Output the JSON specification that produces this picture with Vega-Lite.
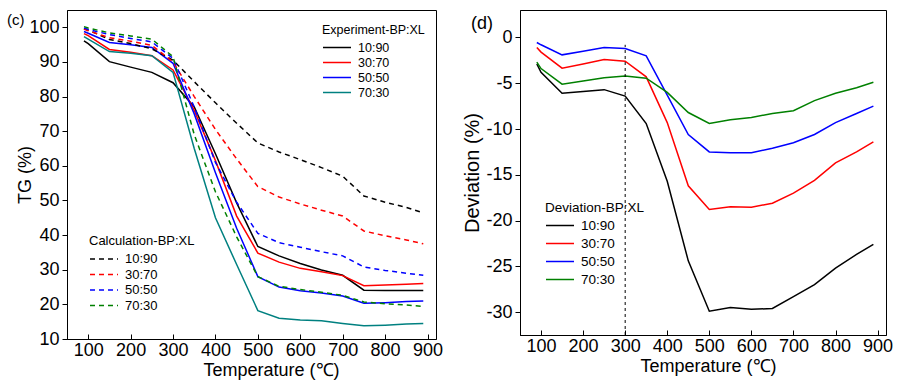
{
  "$schema": "https://vega.github.io/schema/vega-lite/v6.json",
  "background": "white",
  "padding": {"left": 6, "top": 9, "right": 0, "bottom": 0},
  "spacing": 18,
  "resolve": {"scale": {"color": "independent"}, "legend": {"color": "independent"}},
  "config": {
    "font": "Liberation Sans",
    "view": {"stroke": "black", "strokeWidth": 1},
    "axis": {
      "grid": false, "domainColor": "black", "tickColor": "black", "labelColor": "black", "titleColor": "black",
      "tickSize": 5, "labelFontSize": 18, "titleFontSize": 18, "titleFontWeight": "normal", "labelPadding": 2, "labelOverlap": false
    },
    "legend": {
      "titleFontWeight": "normal", "titleColor": "black", "labelColor": "black",
      "symbolType": "M-2,0H2", "symbolSize": 196, "symbolOffset": 7, "symbolStrokeWidth": 1.5,
      "labelOffset": 13, "rowPadding": 0, "titlePadding": 3
    },
    "title": {"fontWeight": "normal", "color": "black"}
  },
  "datasets": {
    "tg": [
      {"T":90,"v":96.1,"s":"10:90","k":"E"},{"T":100,"v":95.3,"s":"10:90","k":"E"},{"T":150,"v":90.1,"s":"10:90","k":"E"},{"T":200,"v":88.5,"s":"10:90","k":"E"},{"T":250,"v":87.0,"s":"10:90","k":"E"},{"T":300,"v":84.0,"s":"10:90","k":"E"},{"T":350,"v":77.0,"s":"10:90","k":"E"},{"T":400,"v":63.5,"s":"10:90","k":"E"},{"T":450,"v":49.3,"s":"10:90","k":"E"},{"T":500,"v":36.7,"s":"10:90","k":"E"},{"T":550,"v":34.0,"s":"10:90","k":"E"},{"T":600,"v":31.8,"s":"10:90","k":"E"},{"T":650,"v":29.9,"s":"10:90","k":"E"},{"T":700,"v":28.4,"s":"10:90","k":"E"},{"T":750,"v":24.1,"s":"10:90","k":"E"},{"T":800,"v":24.0,"s":"10:90","k":"E"},{"T":850,"v":24.0,"s":"10:90","k":"E"},{"T":890,"v":24.0,"s":"10:90","k":"E"},
      {"T":90,"v":98.2,"s":"30:70","k":"E"},{"T":100,"v":97.6,"s":"30:70","k":"E"},{"T":150,"v":93.6,"s":"30:70","k":"E"},{"T":200,"v":92.8,"s":"30:70","k":"E"},{"T":250,"v":91.8,"s":"30:70","k":"E"},{"T":300,"v":87.7,"s":"30:70","k":"E"},{"T":350,"v":76.0,"s":"30:70","k":"E"},{"T":400,"v":61.5,"s":"30:70","k":"E"},{"T":450,"v":45.5,"s":"30:70","k":"E"},{"T":500,"v":34.8,"s":"30:70","k":"E"},{"T":550,"v":32.2,"s":"30:70","k":"E"},{"T":600,"v":30.4,"s":"30:70","k":"E"},{"T":650,"v":29.4,"s":"30:70","k":"E"},{"T":700,"v":28.3,"s":"30:70","k":"E"},{"T":750,"v":25.4,"s":"30:70","k":"E"},{"T":800,"v":25.6,"s":"30:70","k":"E"},{"T":850,"v":25.8,"s":"30:70","k":"E"},{"T":890,"v":26.0,"s":"30:70","k":"E"},
      {"T":90,"v":98.8,"s":"50:50","k":"E"},{"T":100,"v":98.3,"s":"50:50","k":"E"},{"T":150,"v":95.6,"s":"50:50","k":"E"},{"T":200,"v":95.0,"s":"50:50","k":"E"},{"T":250,"v":94.2,"s":"50:50","k":"E"},{"T":300,"v":89.6,"s":"50:50","k":"E"},{"T":350,"v":75.0,"s":"50:50","k":"E"},{"T":400,"v":58.0,"s":"50:50","k":"E"},{"T":450,"v":42.0,"s":"50:50","k":"E"},{"T":500,"v":28.0,"s":"50:50","k":"E"},{"T":550,"v":25.0,"s":"50:50","k":"E"},{"T":600,"v":23.9,"s":"50:50","k":"E"},{"T":650,"v":23.3,"s":"50:50","k":"E"},{"T":700,"v":22.4,"s":"50:50","k":"E"},{"T":750,"v":20.3,"s":"50:50","k":"E"},{"T":800,"v":20.5,"s":"50:50","k":"E"},{"T":850,"v":20.8,"s":"50:50","k":"E"},{"T":890,"v":21.0,"s":"50:50","k":"E"},
      {"T":90,"v":97.3,"s":"70:30","k":"E"},{"T":100,"v":96.6,"s":"70:30","k":"E"},{"T":150,"v":93.0,"s":"70:30","k":"E"},{"T":200,"v":92.5,"s":"70:30","k":"E"},{"T":250,"v":91.8,"s":"70:30","k":"E"},{"T":300,"v":87.0,"s":"70:30","k":"E"},{"T":350,"v":65.0,"s":"70:30","k":"E"},{"T":400,"v":45.0,"s":"70:30","k":"E"},{"T":450,"v":31.5,"s":"70:30","k":"E"},{"T":500,"v":18.2,"s":"70:30","k":"E"},{"T":550,"v":16.0,"s":"70:30","k":"E"},{"T":600,"v":15.5,"s":"70:30","k":"E"},{"T":650,"v":15.3,"s":"70:30","k":"E"},{"T":700,"v":14.5,"s":"70:30","k":"E"},{"T":750,"v":13.8,"s":"70:30","k":"E"},{"T":800,"v":14.0,"s":"70:30","k":"E"},{"T":850,"v":14.3,"s":"70:30","k":"E"},{"T":890,"v":14.5,"s":"70:30","k":"E"},
      {"T":90,"v":99.6,"s":"10:90","k":"C"},{"T":100,"v":99.2,"s":"10:90","k":"C"},{"T":150,"v":96.5,"s":"10:90","k":"C"},{"T":200,"v":95.3,"s":"10:90","k":"C"},{"T":250,"v":93.8,"s":"10:90","k":"C"},{"T":300,"v":90.5,"s":"10:90","k":"C"},{"T":350,"v":84.3,"s":"10:90","k":"C"},{"T":400,"v":78.2,"s":"10:90","k":"C"},{"T":450,"v":72.3,"s":"10:90","k":"C"},{"T":500,"v":66.6,"s":"10:90","k":"C"},{"T":550,"v":64.0,"s":"10:90","k":"C"},{"T":600,"v":61.8,"s":"10:90","k":"C"},{"T":650,"v":59.5,"s":"10:90","k":"C"},{"T":700,"v":57.0,"s":"10:90","k":"C"},{"T":750,"v":51.3,"s":"10:90","k":"C"},{"T":800,"v":49.5,"s":"10:90","k":"C"},{"T":850,"v":48.0,"s":"10:90","k":"C"},{"T":890,"v":46.4,"s":"10:90","k":"C"},
      {"T":90,"v":99.5,"s":"30:70","k":"C"},{"T":100,"v":99.0,"s":"30:70","k":"C"},{"T":150,"v":97.0,"s":"30:70","k":"C"},{"T":200,"v":96.0,"s":"30:70","k":"C"},{"T":250,"v":94.8,"s":"30:70","k":"C"},{"T":300,"v":90.0,"s":"30:70","k":"C"},{"T":350,"v":80.0,"s":"30:70","k":"C"},{"T":400,"v":70.5,"s":"30:70","k":"C"},{"T":450,"v":62.0,"s":"30:70","k":"C"},{"T":500,"v":54.0,"s":"30:70","k":"C"},{"T":550,"v":51.0,"s":"30:70","k":"C"},{"T":600,"v":49.0,"s":"30:70","k":"C"},{"T":650,"v":47.2,"s":"30:70","k":"C"},{"T":700,"v":45.5,"s":"30:70","k":"C"},{"T":750,"v":41.2,"s":"30:70","k":"C"},{"T":800,"v":39.8,"s":"30:70","k":"C"},{"T":850,"v":38.6,"s":"30:70","k":"C"},{"T":890,"v":37.5,"s":"30:70","k":"C"},
      {"T":90,"v":99.8,"s":"50:50","k":"C"},{"T":100,"v":99.4,"s":"50:50","k":"C"},{"T":150,"v":97.9,"s":"50:50","k":"C"},{"T":200,"v":96.8,"s":"50:50","k":"C"},{"T":250,"v":95.8,"s":"50:50","k":"C"},{"T":300,"v":91.0,"s":"50:50","k":"C"},{"T":350,"v":77.0,"s":"50:50","k":"C"},{"T":400,"v":61.0,"s":"50:50","k":"C"},{"T":450,"v":49.5,"s":"50:50","k":"C"},{"T":500,"v":40.5,"s":"50:50","k":"C"},{"T":550,"v":37.8,"s":"50:50","k":"C"},{"T":600,"v":36.5,"s":"50:50","k":"C"},{"T":650,"v":35.2,"s":"50:50","k":"C"},{"T":700,"v":34.0,"s":"50:50","k":"C"},{"T":750,"v":30.8,"s":"50:50","k":"C"},{"T":800,"v":29.8,"s":"50:50","k":"C"},{"T":850,"v":29.0,"s":"50:50","k":"C"},{"T":890,"v":28.4,"s":"50:50","k":"C"},
      {"T":90,"v":100.2,"s":"70:30","k":"C"},{"T":100,"v":99.8,"s":"70:30","k":"C"},{"T":150,"v":98.4,"s":"70:30","k":"C"},{"T":200,"v":97.5,"s":"70:30","k":"C"},{"T":250,"v":96.6,"s":"70:30","k":"C"},{"T":300,"v":91.5,"s":"70:30","k":"C"},{"T":350,"v":69.0,"s":"70:30","k":"C"},{"T":400,"v":52.5,"s":"70:30","k":"C"},{"T":450,"v":39.5,"s":"70:30","k":"C"},{"T":500,"v":28.0,"s":"70:30","k":"C"},{"T":550,"v":25.2,"s":"70:30","k":"C"},{"T":600,"v":24.3,"s":"70:30","k":"C"},{"T":650,"v":23.5,"s":"70:30","k":"C"},{"T":700,"v":22.6,"s":"70:30","k":"C"},{"T":750,"v":20.7,"s":"70:30","k":"C"},{"T":800,"v":20.2,"s":"70:30","k":"C"},{"T":850,"v":19.8,"s":"70:30","k":"C"},{"T":890,"v":19.4,"s":"70:30","k":"C"}
    ],
    "dev": [
      {"T":90,"d":-2.9,"s":"10:90"},{"T":100,"d":-3.8,"s":"10:90"},{"T":150,"d":-6.1,"s":"10:90"},{"T":200,"d":-5.9,"s":"10:90"},{"T":250,"d":-5.7,"s":"10:90"},{"T":300,"d":-6.4,"s":"10:90"},{"T":350,"d":-9.4,"s":"10:90"},{"T":400,"d":-15.7,"s":"10:90"},{"T":450,"d":-24.4,"s":"10:90"},{"T":500,"d":-29.9,"s":"10:90"},{"T":550,"d":-29.5,"s":"10:90"},{"T":600,"d":-29.7,"s":"10:90"},{"T":650,"d":-29.6,"s":"10:90"},{"T":700,"d":-28.3,"s":"10:90"},{"T":750,"d":-27.0,"s":"10:90"},{"T":800,"d":-25.2,"s":"10:90"},{"T":850,"d":-23.7,"s":"10:90"},{"T":890,"d":-22.6,"s":"10:90"},
      {"T":90,"d":-1.1,"s":"30:70"},{"T":100,"d":-1.6,"s":"30:70"},{"T":150,"d":-3.35,"s":"30:70"},{"T":200,"d":-2.9,"s":"30:70"},{"T":250,"d":-2.4,"s":"30:70"},{"T":300,"d":-2.6,"s":"30:70"},{"T":350,"d":-4.3,"s":"30:70"},{"T":400,"d":-9.3,"s":"30:70"},{"T":450,"d":-16.2,"s":"30:70"},{"T":500,"d":-18.8,"s":"30:70"},{"T":550,"d":-18.5,"s":"30:70"},{"T":600,"d":-18.55,"s":"30:70"},{"T":650,"d":-18.1,"s":"30:70"},{"T":700,"d":-17.0,"s":"30:70"},{"T":750,"d":-15.6,"s":"30:70"},{"T":800,"d":-13.7,"s":"30:70"},{"T":850,"d":-12.5,"s":"30:70"},{"T":890,"d":-11.4,"s":"30:70"},
      {"T":90,"d":-0.55,"s":"50:50"},{"T":100,"d":-0.8,"s":"50:50"},{"T":150,"d":-1.9,"s":"50:50"},{"T":200,"d":-1.5,"s":"50:50"},{"T":250,"d":-1.1,"s":"50:50"},{"T":300,"d":-1.2,"s":"50:50"},{"T":350,"d":-2.0,"s":"50:50"},{"T":400,"d":-6.3,"s":"50:50"},{"T":450,"d":-10.6,"s":"50:50"},{"T":500,"d":-12.5,"s":"50:50"},{"T":550,"d":-12.6,"s":"50:50"},{"T":600,"d":-12.6,"s":"50:50"},{"T":650,"d":-12.1,"s":"50:50"},{"T":700,"d":-11.5,"s":"50:50"},{"T":750,"d":-10.6,"s":"50:50"},{"T":800,"d":-9.3,"s":"50:50"},{"T":850,"d":-8.3,"s":"50:50"},{"T":890,"d":-7.5,"s":"50:50"},
      {"T":90,"d":-2.7,"s":"70:30"},{"T":100,"d":-3.4,"s":"70:30"},{"T":150,"d":-5.1,"s":"70:30"},{"T":200,"d":-4.75,"s":"70:30"},{"T":250,"d":-4.4,"s":"70:30"},{"T":300,"d":-4.2,"s":"70:30"},{"T":350,"d":-4.45,"s":"70:30"},{"T":400,"d":-6.0,"s":"70:30"},{"T":450,"d":-8.2,"s":"70:30"},{"T":500,"d":-9.4,"s":"70:30"},{"T":550,"d":-9.0,"s":"70:30"},{"T":600,"d":-8.75,"s":"70:30"},{"T":650,"d":-8.3,"s":"70:30"},{"T":700,"d":-8.0,"s":"70:30"},{"T":750,"d":-6.9,"s":"70:30"},{"T":800,"d":-6.1,"s":"70:30"},{"T":850,"d":-5.5,"s":"70:30"},{"T":890,"d":-4.9,"s":"70:30"}
    ],
    "marker": [{"T":300,"lo":-32.5,"hi":-0.8}]
  },
  "hconcat": [
    {
      "width": 369, "height": 329,
      "title": {"text": "(c)", "anchor": "start", "frame": "group", "orient": "top", "offset": -18, "dx": -60, "fontSize": 15},
      "data": {"name": "tg"},
      "encoding": {
        "x": {"field": "T", "type": "quantitative", "scale": {"domain": [50, 920], "nice": false, "zero": false},
              "axis": {"values": [100,200,300,400,500,600,700,800,900], "title": "Temperature (℃)", "titleX": 204, "titlePadding": 2, "tickSize": -5, "labelPadding": 7, "labelOverlap": false}},
        "y": {"field": "v", "type": "quantitative", "scale": {"domain": [10, 105], "nice": false, "zero": false},
              "axis": {"values": [10,20,30,40,50,60,70,80,90,100], "title": "TG (%)", "labelPadding": 3, "titlePadding": -6, "labelOverlap": false, "labelSeparation": 0, "labelBound": false, "labelFlush": false}}
      },
      "layer": [
        {
          "transform": [{"filter": "datum.k == 'E'"}],
          "mark": {"type": "line", "strokeWidth": 1.5},
          "encoding": {
            "color": {"field": "s", "type": "nominal",
                      "scale": {"domain": ["10:90","30:70","50:50","70:30"], "range": ["#000000","#ff0000","#0000ff","#008080"]},
                      "legend": {"title": "Experiment-BP:XL", "orient": "none", "legendX": 255, "legendY": 14, "titleFontSize": 12.5, "labelFontSize": 12.5, "rowPadding": -1}}
          }
        },
        {
          "transform": [{"filter": "datum.k == 'C'"}],
          "mark": {"type": "line", "strokeWidth": 1.5, "strokeDash": [5, 4]},
          "encoding": {
            "color": {"field": "s", "type": "nominal",
                      "scale": {"domain": ["10:90","30:70","50:50","70:30"], "range": ["#000000","#ff0000","#0000ff","#008000"]},
                      "legend": {"title": "Calculation-BP:XL", "orient": "none", "legendX": 22, "legendY": 225, "titleFontSize": 13, "labelFontSize": 13, "symbolDash": [5, 4], "rowPadding": 0.5}}
          }
        }
      ],
      "resolve": {"scale": {"color": "independent"}}
    },
    {
      "width": 366, "height": 325,
      "title": {"text": "(d)", "anchor": "start", "frame": "group", "orient": "top", "offset": -23, "dx": -49, "fontSize": 18},
      "layer": [
        {
          "data": {"name": "dev"},
          "mark": {"type": "line", "strokeWidth": 1.5},
          "encoding": {
            "x": {"field": "T", "type": "quantitative", "scale": {"domain": [50, 920], "nice": false, "zero": false},
                  "axis": {"values": [100,200,300,400,500,600,700,800,900], "title": "Temperature (℃)", "titleX": 188, "titlePadding": 2, "tickSize": -5, "labelPadding": 7, "labelOverlap": false}},
            "y": {"field": "d", "type": "quantitative", "scale": {"domain": [-32.5, 3.0], "nice": false, "zero": false},
                  "axis": {"values": [-30,-25,-20,-15,-10,-5,0], "labelExpr": "(datum.value < 0 ? '-' : '') + abs(datum.value)", "title": "Deviation (%)", "titleFontSize": 20, "labelPadding": 3, "titlePadding": 3, "labelOverlap": false}},
            "color": {"field": "s", "type": "nominal",
                      "scale": {"domain": ["10:90","30:70","50:50","70:30"], "range": ["#000000","#ff0000","#0000ff","#008000"]},
                      "legend": {"title": "Deviation-BP:XL", "orient": "none", "legendX": 25, "legendY": 191, "titleFontSize": 13.5, "labelFontSize": 13.5, "rowPadding": 3}}
          }
        },
        {
          "data": {"name": "marker"},
          "mark": {"type": "rule", "strokeDash": [3, 3], "strokeWidth": 1, "color": "black"},
          "encoding": {
            "x": {"field": "T", "type": "quantitative"},
            "y": {"field": "lo", "type": "quantitative"},
            "y2": {"field": "hi"}
          }
        }
      ]
    }
  ]
}
